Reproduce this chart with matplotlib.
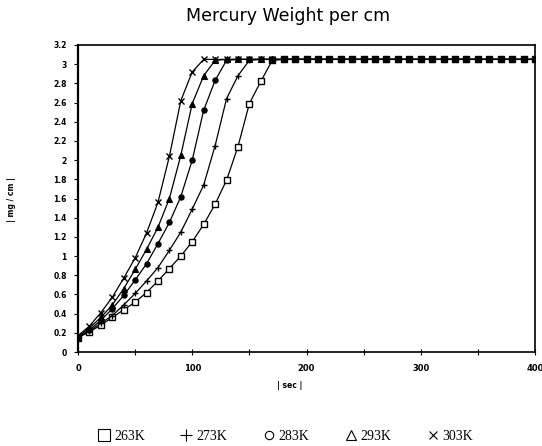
import matplotlib
matplotlib.use("Agg")
import matplotlib.pyplot as plt
from matplotlib.lines import Line2D

times = [0, 10, 20, 30, 40, 50, 60, 70, 80, 90, 100, 110, 120, 130, 140, 150, 160, 170, 180, 190, 200,
         210, 220, 230, 240, 250, 260, 270, 280, 290, 300, 310, 320, 330, 340, 350, 360, 370, 380, 390, 400]

w263 = [0.15, 0.21, 0.28, 0.36, 0.44, 0.52, 0.62, 0.74, 0.87, 1.00, 1.15, 1.33, 1.54, 1.79, 2.14, 2.59, 2.82, 3.04,
        3.05, 3.05, 3.05, 3.05, 3.05, 3.05, 3.05, 3.05, 3.05, 3.05, 3.05, 3.05, 3.05, 3.05, 3.05, 3.05, 3.05,
        3.05, 3.05, 3.05, 3.05, 3.05, 3.05]
w273 = [0.15, 0.22, 0.30, 0.38, 0.49, 0.61, 0.74, 0.88, 1.06, 1.25, 1.49, 1.74, 2.15, 2.64, 2.88, 3.04,
        3.05, 3.05, 3.05, 3.05, 3.05, 3.05, 3.05, 3.05, 3.05, 3.05, 3.05, 3.05, 3.05, 3.05, 3.05, 3.05, 3.05,
        3.05, 3.05, 3.05, 3.05, 3.05, 3.05, 3.05, 3.05]
w283 = [0.15, 0.23, 0.33, 0.45, 0.59, 0.75, 0.92, 1.13, 1.35, 1.62, 2.00, 2.52, 2.83, 3.04,
        3.05, 3.05, 3.05, 3.05, 3.05, 3.05, 3.05, 3.05, 3.05, 3.05, 3.05, 3.05, 3.05, 3.05, 3.05, 3.05, 3.05,
        3.05, 3.05, 3.05, 3.05, 3.05, 3.05, 3.05, 3.05, 3.05, 3.05]
w293 = [0.16, 0.25, 0.36, 0.49, 0.66, 0.86, 1.07, 1.30, 1.60, 2.05, 2.59, 2.88, 3.04,
        3.05, 3.05, 3.05, 3.05, 3.05, 3.05, 3.05, 3.05, 3.05, 3.05, 3.05, 3.05, 3.05, 3.05, 3.05, 3.05, 3.05,
        3.05, 3.05, 3.05, 3.05, 3.05, 3.05, 3.05, 3.05, 3.05, 3.05, 3.05]
w303 = [0.17, 0.27, 0.41, 0.57, 0.77, 0.98, 1.24, 1.56, 2.04, 2.62, 2.92, 3.05,
        3.05, 3.05, 3.05, 3.05, 3.05, 3.05, 3.05, 3.05, 3.05, 3.05, 3.05, 3.05, 3.05, 3.05, 3.05, 3.05, 3.05,
        3.05, 3.05, 3.05, 3.05, 3.05, 3.05, 3.05, 3.05, 3.05, 3.05, 3.05, 3.05]

labels = ["263K", "273K", "283K", "293K", "303K"]
series = [w263, w273, w283, w293, w303]
markers = ["s", "+", "o", "^", "x"]

yticks = [0, 0.2, 0.4, 0.6, 0.8, 1, 1.2, 1.4, 1.6, 1.8, 2, 2.2, 2.4, 2.6, 2.8, 3, 3.2]
ytick_labels = ["0", "0.2", "0.4", "0.6", "0.8", "1", "1.2", "1.4", "1.6", "1.8", "2",
                "2.2", "2.4", "2.6", "2.8", "3", "3.2"]
xticks = [0, 100, 200, 300, 400]
xminor = [50, 150, 250, 350]

fig = plt.figure(figsize=(5.42, 4.46), dpi=100)
ax = fig.add_axes([78 / 542, 94 / 446, 457 / 542, 307 / 446])

styles = {
    "s": dict(markersize=5, markerfacecolor="white", markeredgewidth=1.0),
    "+": dict(markersize=5, markeredgewidth=1.0),
    "o": dict(markersize=3.8, markerfacecolor="black", markeredgewidth=0.8),
    "^": dict(markersize=4.2, markerfacecolor="black", markeredgewidth=0.8),
    "x": dict(markersize=4.5, markeredgewidth=1.0),
}
for vals, m in zip(series, markers):
    ax.plot(times, vals, color="black", linewidth=0.9, marker=m,
            markeredgecolor="black", **styles[m])

ax.set_xlim(0, 400)
ax.set_ylim(0, 3.2)
ax.set_yticks(yticks)
ax.set_yticklabels(ytick_labels, fontsize=5.5, fontweight="bold")
ax.set_xticks(xticks)
ax.set_xticklabels([str(v) for v in xticks], fontsize=6, fontweight="bold")
ax.set_xticks(xminor, minor=True)
ax.tick_params(axis="y", direction="out", length=3, width=0.8, pad=5)
ax.tick_params(axis="x", which="both", direction="inout", length=5, width=0.8, pad=6)
for sp in ax.spines.values():
    sp.set_linewidth(1.2)
ax.spines["left"].set_linewidth(1.6)

fig.text(288 / 542, 1 - 16 / 446, "Mercury Weight per cm", ha="center", va="center",
         fontsize=12.5, fontfamily="DejaVu Sans")
fig.text(290 / 542, 1 - 385 / 446, "| sec |", ha="center", va="center",
         fontsize=5.5, fontweight="bold")
fig.text(12 / 542, 1 - 200 / 446, "| mg / cm |", ha="center", va="center",
         rotation=90, fontsize=5.5, fontweight="bold")

handles = []
leg_styles = [
    dict(marker="s", markersize=8, markerfacecolor="white", markeredgewidth=0.8),
    dict(marker="+", markersize=8, markeredgewidth=0.8),
    dict(marker="o", markersize=6, markerfacecolor="white", markeredgewidth=0.8),
    dict(marker="^", markersize=7, markerfacecolor="white", markeredgewidth=0.8),
    dict(marker="x", markersize=6, markeredgewidth=0.8),
]
for st in leg_styles:
    handles.append(Line2D([], [], color="black", linestyle="none", markeredgecolor="black", **st))
fig.legend(handles, labels, loc="center", bbox_to_anchor=(286 / 542, 1 - 436 / 446), ncol=5,
           frameon=False, prop={"family": "Liberation Serif", "size": 10},
           handlelength=0.8, handletextpad=0.3, columnspacing=2.6, borderpad=0)

fig.savefig("out.png", dpi=100)
